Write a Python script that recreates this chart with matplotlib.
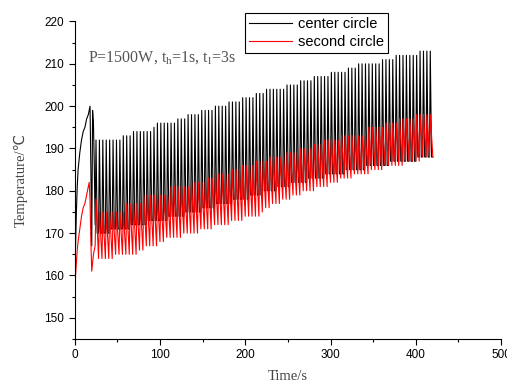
import numpy as np
import matplotlib
matplotlib.use("Agg")
import matplotlib.pyplot as plt
from matplotlib.ticker import MultipleLocator

plt.rcParams['font.family'] = ['Liberation Sans', 'DejaVu Sans']
plt.rcParams['mathtext.fontset'] = 'custom'
plt.rcParams['mathtext.rm'] = 'Liberation Serif'

# heating cycle: t_h = 1 s on, t_l = 3 s off, pulses start after the warm-up
cycle_start = 24
t_heat = 1
t_period = 4

# warm-up part
center_intro_t = [0, 0.5, 1, 2, 3, 4, 6, 8, 10, 12, 14, 16, 18, 19, 20, 21, 22, 23]
center_intro_v = [150, 160, 167, 175, 181, 185, 189, 192, 194, 195, 197, 198, 200,
                  185, 167, 199, 196, 186]
second_intro_t = [0, 0.5, 1, 2, 3, 4, 6, 8, 10, 12, 14, 16, 17, 18, 19, 20, 21, 22]
second_intro_v = [148, 155, 160, 163, 166, 168, 171, 174, 176, 177, 179, 181, 182,
                  178, 168, 161, 163, 165]

# troughs at the start of every pulse (t = 24, 28, ... 420)
center_low = [172,
              170, 170, 170, 170, 171, 171, 171, 171, 171, 171,
              172, 172, 172, 172, 172, 173, 173, 173, 173, 173,
              173, 174, 174, 174, 174, 174, 175, 175, 175, 175,
              175, 176, 176, 176, 176, 177, 177, 177, 177, 177,
              178, 178, 178, 178, 178, 179, 179, 179, 179, 180,
              180, 180, 180, 181, 181, 181, 181, 182, 182, 182,
              182, 182, 183, 183, 183, 183, 183, 184, 184, 184,
              184, 184, 184, 185, 185, 185, 185, 185, 185, 186,
              186, 186, 186, 186, 186, 186, 187, 187, 187, 187,
              187, 187, 187, 187, 188, 188, 188, 188, 188]
second_low = [167,
              164, 164, 164, 164, 164,
              165, 165, 165, 165, 165, 165, 165,
              166, 166,
              167, 167, 167, 167,
              168, 168,
              169, 169, 169, 169, 169,
              170, 170, 170, 170, 170,
              171, 171, 171, 171,
              172, 172, 172, 172, 172,
              173, 173, 173, 173,
              174, 174, 174, 174, 174,
              175, 176, 176, 177, 177,
              177, 178, 178, 178, 179,
              179, 179, 180, 180, 180,
              180, 181, 181, 181, 181,
              182, 182, 182, 183, 183,
              183, 183, 184, 184, 184,
              184, 184, 185, 185, 185,
              185, 186, 186, 186, 186,
              186, 186, 187, 187, 187,
              187, 187, 188, 188, 188, 188]

# peaks at the end of every heating second (t = 25, 29, ... 417)
center_high = [192, 192, 192, 192, 192, 192, 192, 192,
               193, 193, 193,
               194, 194, 194, 194, 194, 194,
               195,
               196, 196, 196, 196, 196, 196,
               197, 197, 197,
               198, 198, 198, 198,
               199, 199, 199, 199,
               200, 200, 200, 200,
               201, 201, 201, 201,
               202, 202, 202, 202,
               203, 203, 203,
               204, 204, 204, 204, 204, 204,
               205, 205, 205, 205,
               206, 206, 206, 206,
               207, 207, 207, 207, 207,
               208, 208, 208, 208, 208,
               209, 209, 209,
               210, 210, 210, 210, 210, 210, 210,
               211, 211, 211, 211,
               212, 212, 212, 212, 212, 212, 212,
               213, 213, 213, 213]
second_high = [178,
               175, 175, 175, 175, 175, 175, 175, 175,
               177, 177, 177, 177, 177,
               179, 179, 179, 179, 179, 179, 179, 179,
               181, 181, 181, 181, 181, 181,
               182, 182, 182, 182, 182,
               183, 183,
               184, 184, 184, 184, 184,
               185, 185, 185,
               186, 186, 186, 186,
               187, 187, 187, 187,
               188, 188, 188, 188, 188,
               189, 189, 189, 189,
               190, 190, 190, 190,
               191, 191, 191,
               192, 192, 192, 192, 192,
               193, 193, 193, 193, 193, 193, 193, 193,
               195, 195, 195, 195, 195,
               196, 196, 196, 196,
               197, 197, 197, 197, 197,
               198, 198, 198, 198, 198]


def build_series(intro_t, intro_v, lows, highs, t_fall):
    # each pulse: rise during heating, fall back to the next trough in t_fall seconds
    t_low = cycle_start + t_period * np.arange(len(lows))
    t = list(intro_t)
    v = list(intro_v)
    for k in range(len(highs)):
        t += [t_low[k], t_low[k] + t_heat]
        v += [lows[k], highs[k]]
        if t_heat + t_fall < t_period:
            t.append(t_low[k] + t_heat + t_fall)
            v.append(lows[k + 1])
    t.append(t_low[-1])
    v.append(lows[-1])
    return np.array(t), np.array(v)


t_c, v_c = build_series(center_intro_t, center_intro_v, center_low, center_high, 1.4)
t_s, v_s = build_series(second_intro_t, second_intro_v, second_low, second_high, 3)

fig = plt.figure(figsize=(5.07, 3.85), dpi=100)
ax = fig.add_axes([0.1473, 0.1195, 0.841, 0.8247])

ax.plot(t_c, v_c, color='black', lw=0.8, label='center circle')
ax.plot(t_s, v_s, color='red', lw=0.8, label='second circle')

ax.set_xlim(0, 500)
ax.set_ylim(145, 220)
ax.xaxis.set_major_locator(MultipleLocator(100))
ax.xaxis.set_minor_locator(MultipleLocator(50))
ax.yaxis.set_minor_locator(MultipleLocator(5))
ax.set_yticks([150, 160, 170, 180, 190, 200, 210, 220])
ax.tick_params(which='major', direction='out', length=4, width=0.8,
               labelsize=8.5, colors='black')
ax.tick_params(which='minor', direction='out', length=2.5, width=0.8)
ax.spines['top'].set_visible(False)
ax.spines['right'].set_visible(False)
for s in ('left', 'bottom'):
    ax.spines[s].set_linewidth(0.8)

serif = ['Liberation Serif', 'DejaVu Sans', 'Noto Sans CJK SC']
ax.set_xlabel('Time/s', family=serif, fontsize=10.5, color='#444444', labelpad=6)
ax.set_ylabel('Temperature/℃', family=serif, fontsize=10.5, color='#444444', labelpad=12)

ax.text(0.031, 0.885, r'P=1500W, t$_{\mathrm{h}}$=1s, t$_{\mathrm{l}}$=3s',
        transform=ax.transAxes, family='Liberation Serif', fontsize=11.5,
        color='#555555', va='center', ha='left')

leg = ax.legend(loc='upper left', bbox_to_anchor=(245 / 507, 1 - 13 / 385),
                bbox_transform=fig.transFigure, fancybox=False, framealpha=1,
                edgecolor='black', fontsize=10.5, handlelength=2.9,
                borderpad=0.3, labelspacing=0.25, handletextpad=0.4, borderaxespad=0)
leg.get_frame().set_linewidth(0.8)
for line in leg.get_lines():
    line.set_linewidth(0.8)

fig.savefig('out.png', dpi=100)
